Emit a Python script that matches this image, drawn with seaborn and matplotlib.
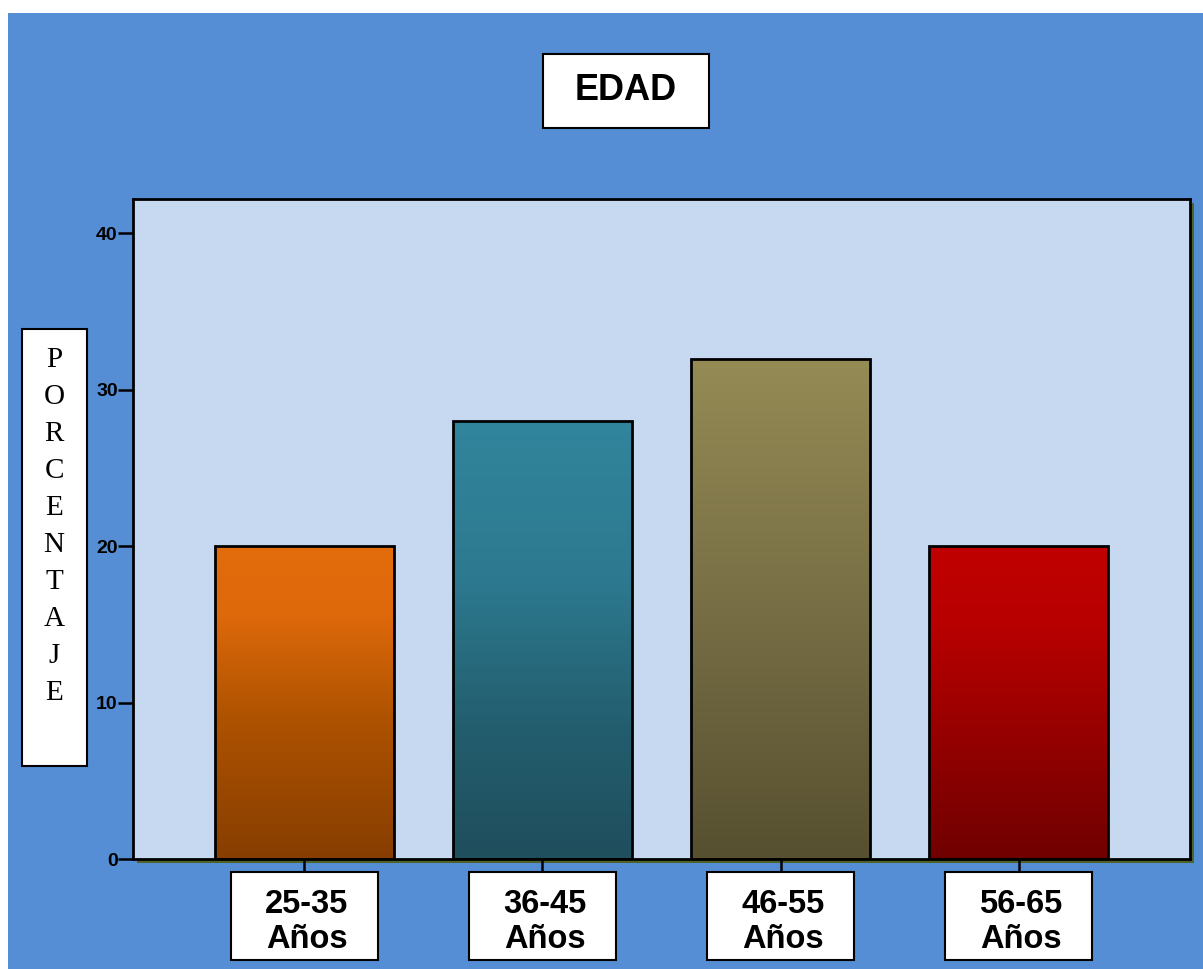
import numpy as np
import pandas as pd
import matplotlib
matplotlib.use("Agg")
import matplotlib.pyplot as plt
import matplotlib.transforms as mtransforms
from matplotlib.patches import Rectangle
from matplotlib.colors import LinearSegmentedColormap
import seaborn as sns

# ---- data ----
categories = ["25-35\nAños", "36-45\nAños", "46-55\nAños", "56-65\nAños"]
values = [20, 28, 32, 20]
yticks = [0, 10, 20, 30, 40]
title = "EDAD"
ylabel = "PORCENTAJE"

# gradient stops (top -> bottom) per bar
grad_stops = [
    [(0.0, "#E36C0B"), (0.22, "#DE690B"), (0.55, "#AE5200"), (1.0, "#873E00")],
    [(0.0, "#31859C"), (0.35, "#2D7A90"), (0.7, "#235E6E"), (1.0, "#1F4E5D")],
    [(0.0, "#958B55"), (0.5, "#776E45"), (1.0, "#575030")],
    [(0.0, "#C00000"), (0.25, "#B80000"), (1.0, "#700000")],
]

W, H = 1203, 969
sns.set_theme(style="white")
plt.rcParams['font.family'] = ['Liberation Sans', 'DejaVu Sans']
plt.rcParams['text.color'] = 'black'
plt.rcParams['xtick.color'] = 'black'
plt.rcParams['ytick.color'] = 'black'

fig = plt.figure(figsize=(W / 100, H / 100), dpi=100, facecolor="white")

def fx(px):
    return px / W

def fy(py):
    return 1 - py / H

# blue background (white margins at top/left)
fig.patches.append(Rectangle((fx(8), 0), 1 - fx(8), fy(13), transform=fig.transFigure,
                             facecolor="#558ED5", edgecolor="none", zorder=-3))

ax_l, ax_r, ax_t, ax_b = 133, 1190, 199, 859
ax = fig.add_axes([fx(ax_l), fy(ax_b), fx(ax_r) - fx(ax_l), fy(ax_t) - fy(ax_b)])
ax.set_facecolor("#C6D9F1")

# olive shadow behind the plot area
off = mtransforms.ScaledTranslation(4 / 100, -4 / 100, fig.dpi_scale_trans)
fig.patches.append(Rectangle((0, 0), 1, 1, transform=ax.transAxes + off,
                             facecolor="#4F6228", edgecolor="none", zorder=-2))

df = pd.DataFrame({"cat": categories, "val": values})
sns.barplot(data=df, x="cat", y="val", hue="cat", palette=["#000000"] * 4,
            legend=False, width=0.75, ax=ax, edgecolor="black", linewidth=2)

for patch, stops in zip(ax.patches, grad_stops):
    x0, w, h = patch.get_x(), patch.get_width(), patch.get_height()
    cmap = LinearSegmentedColormap.from_list("g", stops)
    grad = np.linspace(0, 1, 256).reshape(-1, 1)
    im = ax.imshow(grad, cmap=cmap, aspect="auto", extent=(x0, x0 + w, 0, h),
                   origin="upper", zorder=1, interpolation="bilinear")
    im.set_clip_path(patch)
    patch.set_facecolor("none")
    patch.set_zorder(2)

ax.set_xlim(-0.72, 3.72)
ax.set_ylim(0, 42.2)

for sp in ax.spines.values():
    sp.set_visible(True)
    sp.set_color("black")
    sp.set_linewidth(2)

ax.set_yticks(yticks)
ax.set_yticklabels([str(t) for t in yticks], fontsize=14, fontweight="bold")
ax.tick_params(axis="y", direction="out", length=11, width=1.8, color="black", pad=0,
               left=True, labelcolor="black")
ax.tick_params(axis="x", direction="out", length=9.5, width=1.8, color="black", bottom=True,
               labelbottom=False)
ax.set_xlabel("")
ax.set_ylabel("")

# category label boxes below ticks
blend = mtransforms.blended_transform_factory(ax.transData, ax.transAxes)
ax_h = ax_b - ax_t
for i, lab in enumerate(categories):
    y_top = -(13 / ax_h)
    y_bot = -(101 / ax_h)
    ax.add_patch(Rectangle((i - 0.309, y_bot), 0.618, y_top - y_bot, transform=blend,
                           facecolor="white", edgecolor="black", linewidth=1.5,
                           clip_on=False, zorder=5))
    ax.text(i + 0.01, -(63 / ax_h), lab, transform=blend, ha="center", va="center",
            fontsize=23.5, fontweight="bold", linespacing=1.18, clip_on=False, zorder=6,
            color="black")

# title box
fig.patches.append(Rectangle((fx(543), fy(128)), fx(709) - fx(543), fy(54) - fy(128),
                             transform=fig.transFigure, facecolor="white",
                             edgecolor="black", linewidth=1.5, zorder=3))
fig.text(fx(626), fy(91), title, ha="center", va="center", fontsize=26,
         fontweight="bold", zorder=4, color="black")

# y label box with stacked letters
fig.patches.append(Rectangle((fx(22), fy(766)), fx(87) - fx(22), fy(329) - fy(766),
                             transform=fig.transFigure, facecolor="white",
                             edgecolor="black", linewidth=1.5, zorder=3))
for i, ch in enumerate(ylabel):
    fig.text(fx(54), fy(360 + i * 37), ch, ha="center", va="center", fontsize=21,
             family=["Liberation Serif", "DejaVu Serif"], zorder=4, color="black")

fig.savefig("out.png", dpi=100, facecolor="white")
